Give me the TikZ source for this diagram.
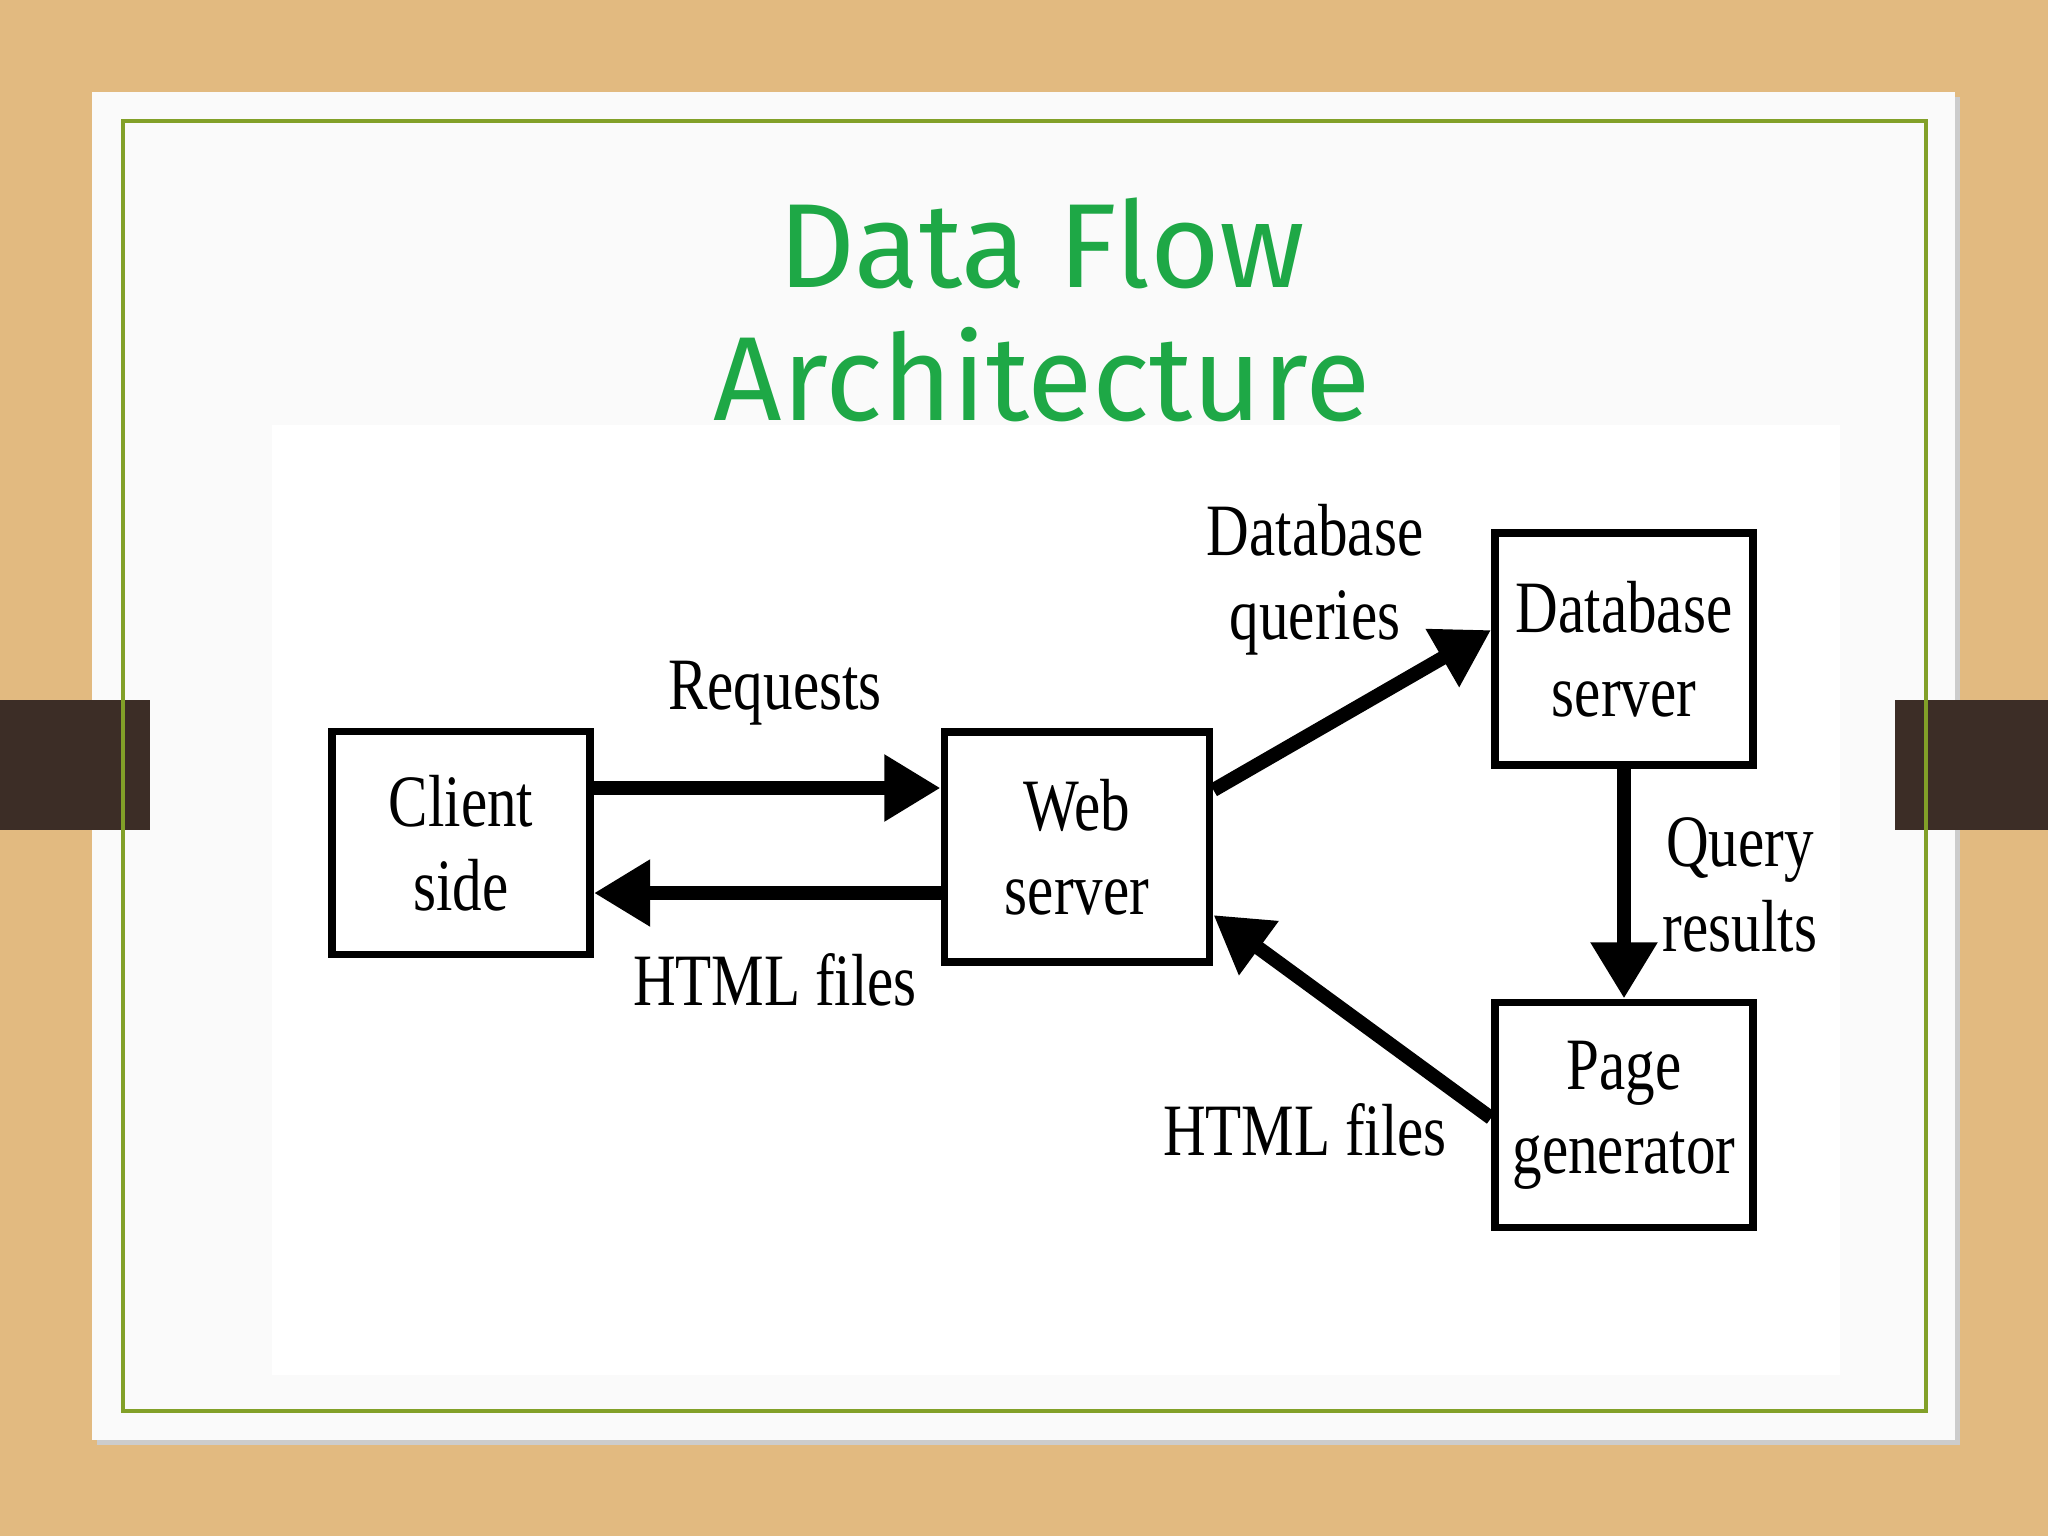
\documentclass[tikz,border=0pt]{standalone}
\usepackage{fontspec}
\setmainfont{Liberation Serif}[FakeStretch=0.8]
\newfontfamily\titlefont{Fira Sans}
\usetikzlibrary{arrows.meta}
\definecolor{wood}{RGB}{226,186,128}
\definecolor{tgreen}{RGB}{30,168,70}
\definecolor{bgreen}{RGB}{130,160,40}
\definecolor{tab}{RGB}{60,45,38}
\begin{document}
\begin{tikzpicture}[x=0.01cm,y=-0.01cm,
  box/.style={draw,line width=2.2pt,inner sep=0pt,align=center,font=\fontsize{21}{24}\selectfont},
  lbl/.style={font=\fontsize{21}{24}\selectfont,align=center},
  arr/.style={line width=4pt,-{Triangle[length=16pt,width=18pt]}}]
\useasboundingbox (0,0) rectangle (2048,1536);
\fill[wood] (0,0) rectangle (2048,1536);
\fill[gray!40] (97,97) rectangle (1960,1445);
\fill[white!96!gray] (92,92) rectangle (1955,1440);
\fill[tab] (0,700) rectangle (150,830);
\fill[tab] (1895,700) rectangle (2048,830);
\draw[bgreen,line width=1.2pt] (123,121) rectangle (1926,1411);
\node[tgreen,font=\titlefont\fontsize{34}{38}\selectfont,align=center] (title) at (1042,310) {Data Flow\\Architecture};
\fill[white] (272,425) rectangle (1840,1375);
\node[box,minimum width=2.58cm,minimum height=2.23cm] (client) at (461,843) {Client\\side};
\node[box,minimum width=2.65cm,minimum height=2.30cm] (web) at (1077,847) {Web\\server};
\node[box,minimum width=2.58cm,minimum height=2.32cm] (db) at (1624,649) {Database\\server};
\node[box,minimum width=2.58cm,minimum height=2.25cm] (pg) at (1624,1115) {Page\\generator};
\draw[arr] (client.east |- 0,788) -- (web.west |- 0,788);
\draw[arr] (web.west |- 0,893) -- (client.east |- 0,893);
\draw[arr] (web.east |- 0,790) -- (db.west |- 0,630);
\draw[arr] (db.south) -- (pg.north);
\draw[arr] (pg.west |- 0,1118) -- (web.east |- 0,915);
\node[lbl] at (775,693) {Requests};
\node[lbl] at (775,980) {HTML files};
\node[lbl] at (1315,580) {Database\\queries};
\node[lbl] at (1740,885) {Query\\results};
\node[lbl] at (1305,1130) {HTML files};
\end{tikzpicture}
\end{document}
